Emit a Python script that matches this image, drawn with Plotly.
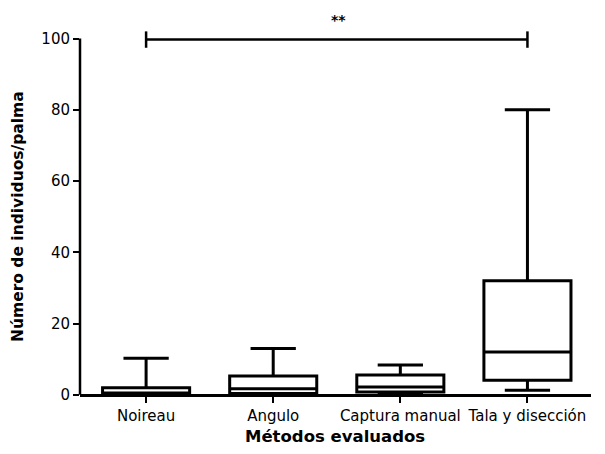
import plotly.graph_objects as go

categories = ["Noireau", "Angulo", "Captura manual", "Tala y disección"]
lower_fence = [0.0, 0.0, 0.0, 1.3]
q1_vals = [0.0, 0.4, 0.8, 4.1]
median_vals = [0.5, 1.7, 2.2, 12.0]
q3_vals = [2.0, 5.3, 5.6, 32.0]
upper_fence = [10.3, 13.0, 8.4, 80.0]
y_ticks = [0, 20, 40, 60, 80, 100]
sig_label = "**"
sig_level = 99.7

FONT = "DejaVu Sans"

fig = go.Figure()
fig.add_trace(go.Box(
    x=categories,
    lowerfence=lower_fence,
    q1=q1_vals,
    median=median_vals,
    q3=q3_vals,
    upperfence=upper_fence,
    fillcolor="white",
    line=dict(color="black", width=3),
    whiskerwidth=0.52,
    boxpoints=False,
    showlegend=False,
    hoverinfo="skip",
))

shapes = [
    dict(type="line", xref="paper", yref="y", x0=0, x1=0, y0=0, y1=100,
         line=dict(color="black", width=2.5)),
    dict(type="line", xref="x", yref="y", x0=categories[0], x1=categories[3],
         y0=sig_level, y1=sig_level, line=dict(color="black", width=2.5)),
    dict(type="line", xref="x", yref="y", x0=categories[0], x1=categories[0],
         y0=sig_level - 2.3, y1=sig_level + 2.3, line=dict(color="black", width=2.5)),
    dict(type="line", xref="x", yref="y", x0=categories[3], x1=categories[3],
         y0=sig_level - 2.3, y1=sig_level + 2.3, line=dict(color="black", width=2.5)),
]

annotations = [
    dict(text="<b>" + sig_label + "</b>", xref="paper", yref="y", x=(338 - 80) / 511, y=105.3,
         showarrow=False, font=dict(family=FONT, size=14, color="black")),
    dict(text="<b>Métodos evaluados</b>", xref="paper", yref="paper",
         x=(335 - 80) / 511, y=-(436 - 402) / 392, yanchor="middle",
         showarrow=False, font=dict(family=FONT, size=16.5, color="black")),
    dict(text="<b>Número de individuos/palma</b>", xref="paper", yref="paper",
         x=-(80 - 18) / 511, y=(402 - 217) / 392, textangle=-90,
         xanchor="center", yanchor="middle",
         showarrow=False, font=dict(family=FONT, size=15.5, color="black")),
]

fig.update_layout(
    width=605, height=454,
    margin=dict(l=80, r=14, t=10, b=52),
    paper_bgcolor="white", plot_bgcolor="white",
    boxgap=0.315,
    boxgroupgap=0,
    font=dict(family=FONT, size=15, color="black"),
    shapes=shapes,
    annotations=annotations,
    xaxis=dict(
        type="category",
        range=[-0.52, 3.5],
        anchor="free",
        position=2 / 110,
        showline=True, linecolor="black", linewidth=2.5,
        ticks="outside", ticklen=6, tickwidth=2, tickcolor="black",
        showgrid=False, zeroline=False,
        tickfont=dict(family=FONT, size=15, color="black"),
        fixedrange=True,
    ),
    yaxis=dict(
        range=[-2, 108],
        tickvals=y_ticks,
        ticktext=[str(v) for v in y_ticks],
        showline=False,
        ticks="outside", ticklen=6, tickwidth=2, tickcolor="black",
        showgrid=False, zeroline=False,
        tickfont=dict(family=FONT, size=15, color="black"),
        fixedrange=True,
    ),
)

fig.write_html("out.html", config={"displayModeBar": False},
               post_script="document.body.style.margin='0';")
